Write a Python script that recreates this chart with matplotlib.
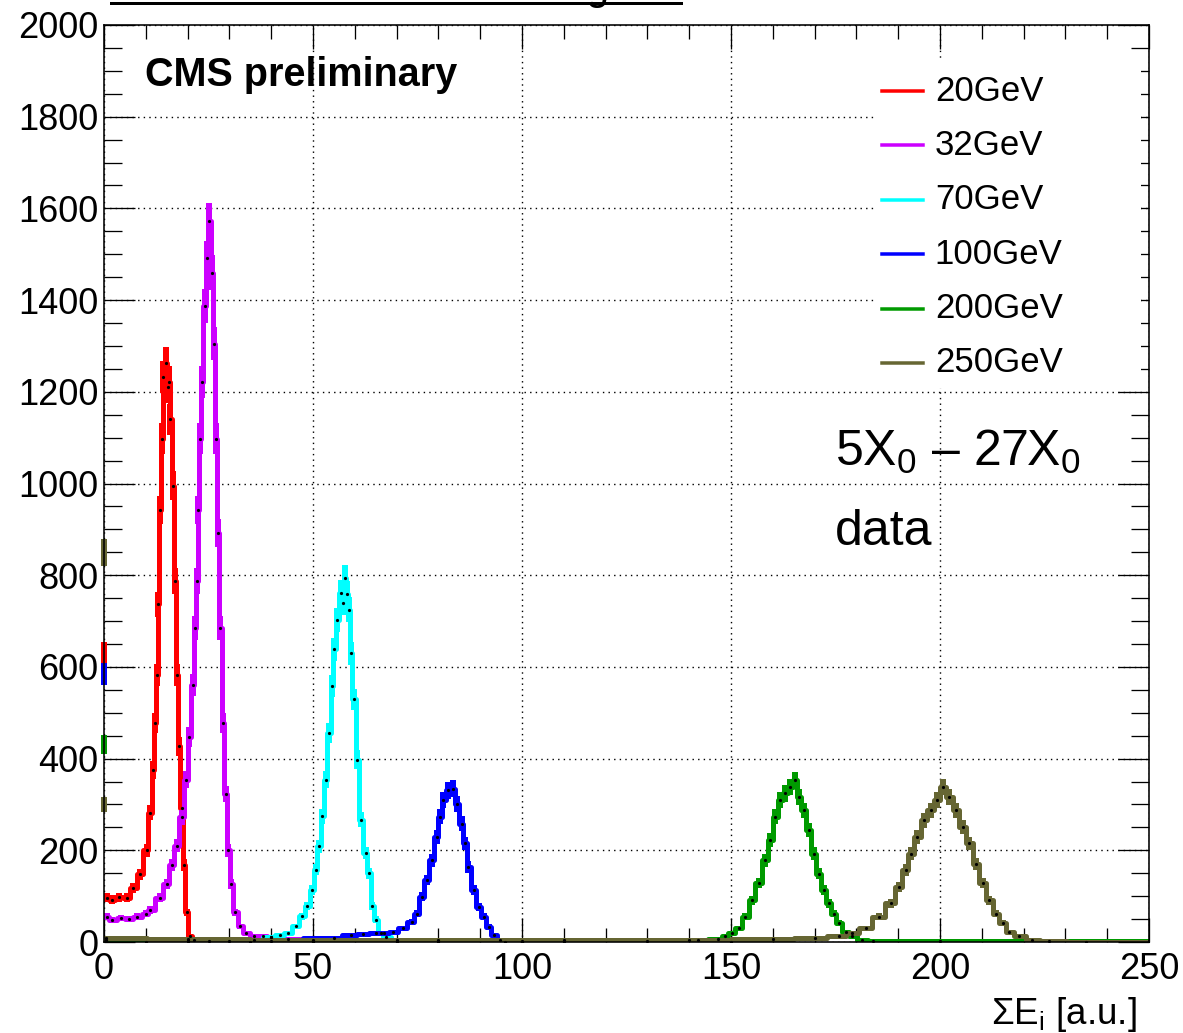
import numpy as np
import matplotlib
matplotlib.use('Agg')
import matplotlib.pyplot as plt
from matplotlib.ticker import MultipleLocator
from matplotlib.lines import Line2D
from matplotlib.patches import Rectangle

plt.rcParams['font.family'] = ['Liberation Sans', 'DejaVu Sans']
plt.rcParams['mathtext.fontset'] = 'custom'
plt.rcParams['mathtext.rm'] = 'Liberation Sans'
plt.rcParams['mathtext.it'] = 'Liberation Sans:italic'
plt.rcParams['mathtext.bf'] = 'Liberation Sans:bold'

# ---------------- data ----------------
labels = ['20GeV', '32GeV', '70GeV', '100GeV', '200GeV', '250GeV']
colors = ['#ff0000', '#cc00ff', '#00ffff', '#0000ff', '#009a00', '#666633']

x_20 = [0.6, 2, 3.5, 5.4, 7, 8.6, 10.2, 11, 11.8, 12.2, 12.6, 13, 13.4, 13.8, 14.2, 14.8,
        15.3, 15.6, 15.9, 16.6, 17, 17.5, 18, 18.6, 19.1, 19.8, 20.6, 21.5, 25, 35, 50, 70, 100]
y_20 = [96, 92, 98, 96, 117, 148, 200, 282, 375, 478, 582, 737, 943, 1098, 1232, 1263,
        1210, 1222, 1140, 995, 788, 582, 427, 292, 168, 65, 13, 4, 2, 1, 1, 0, 0]

x_32 = [0.6, 2, 4, 6, 8, 10, 11, 13.4, 15, 16.2, 17.4, 18.6, 19.6, 20.4, 21.2, 21.8, 22.2,
        22.6, 23, 23.4, 24.2, 24.7, 25.2, 25.8, 26.3, 26.9, 27.3, 27.8, 28.5, 29.1, 29.7,
        30.5, 31.4, 32.6, 34, 36, 38, 40, 44, 50, 70, 100]
y_32 = [55, 48, 52, 50, 55, 62, 70, 96, 127, 168, 210, 272, 354, 447, 561, 685, 788,
        943, 1098, 1222, 1387, 1491, 1573, 1460, 1305, 1098, 892, 685, 478, 323, 200,
        127, 65, 34, 19, 14, 12, 10, 6, 3, 1, 0]

x_70 = [0.5, 10, 20, 30, 36, 40, 42, 44, 45.9, 47.4, 48.6, 49.8, 50.6, 51.4, 52.2, 53, 53.8,
        54.6, 55, 55.8, 56.6, 57.2, 57.7, 58.1, 58.5, 59, 59.8, 60.6, 61.4, 62.6, 63.4,
        64.2, 65, 66.2, 67.5, 70, 80, 100]
y_70 = [3, 1, 2, 3, 5, 10, 15, 20, 34, 56, 78, 114, 158, 209, 274, 354, 456,
        558, 638, 703, 761, 740, 794, 760, 725, 630, 529, 398, 267, 194, 150,
        78, 49, 20, 10, 4, 1, 0]

x_100 = [0.5, 20, 40, 55, 59, 62, 65, 67, 69.2, 71.6, 73.6, 74.8, 76, 77.2, 78.4, 79.6, 80.4,
         81.2, 82.4, 83.6, 84.4, 85.6, 86.4, 87.2, 88.4, 89.6, 90.8, 92, 93.2, 94.8, 96, 110, 150]
y_100 = [5, 2, 3, 8, 15, 18, 19, 20, 22, 30, 44, 62, 99, 135, 178, 229, 273,
         309, 331, 334, 302, 258, 215, 164, 113, 77, 55, 33, 15, 4, 1, 0, 0]

x_200 = [0.5, 50, 100, 130, 142, 147, 148.6, 150.2, 151.8, 153.4, 155, 156.6, 158.2, 159.4,
         160.6, 161.8, 163, 164.2, 165.3, 166.2, 167.4, 168.6, 169.8, 171, 172.2, 173.4,
         174.6, 175.8, 177.4, 179, 181.4, 184, 200, 250]
y_200 = [3, 2, 2, 2, 4, 6, 12, 19, 30, 55, 91, 128, 178, 222,
         273, 309, 324, 338, 353, 316, 287, 244, 193, 149, 113, 84,
         62, 41, 22, 12, 4, 2, 2, 2]

x_250 = [0.5, 20, 50, 80, 110, 140, 160, 170, 175.8, 179, 182.2, 185.4, 188.2, 190.2, 191.8,
         193, 194.6, 196.2, 197.8, 199.4, 200.8, 202.2, 203.8, 205.4, 207, 208.6, 210.2,
         211.8, 213.4, 215, 216.6, 219, 222, 226, 235, 250]
y_250 = [8, 6, 5, 5, 5, 5, 6, 8, 12, 19, 30, 55, 84, 120, 157,
         193, 229, 265, 287, 309, 338, 316, 287, 251, 215, 171, 128,
         91, 62, 41, 22, 12, 4, 3, 1, 0]

# first-bin values visible on the left edge
edge_series = ['250GeV', '20GeV', '100GeV', '200GeV', '250GeV']
edge_values = [850, 630, 585, 430, 300]

series_x = [x_20, x_32, x_70, x_100, x_200, x_250]
series_y = [y_20, y_32, y_70, y_100, y_200, y_250]

# ---------------- figure ----------------
W, H = 1183, 1033
PX = 0.72  # points per pixel at dpi 100
fig = plt.figure(figsize=(W / 100, H / 100), dpi=100)
ax = fig.add_axes([104 / W, 1 - 942 / H, 1045 / W, 917 / H])
ax.set_xlim(0, 250)
ax.set_ylim(0, 2000)

for xs, ys, c in zip(series_x, series_y, colors):
    xs = np.asarray(xs, float)
    ys = np.asarray(ys, float)
    ax.step(xs, ys, where='mid', color=c, lw=5 * PX, zorder=3)
    ax.errorbar(xs, ys, yerr=np.sqrt(ys), fmt='none', ecolor=c,
                elinewidth=6 * PX, capsize=0, zorder=3)
    ax.plot(xs, ys, ls='none', marker='o', ms=1.8 * PX, color='black', zorder=4)

cmap = dict(zip(labels, colors))
for s, v in zip(edge_series, edge_values):
    ax.errorbar([0], [v], yerr=[np.sqrt(v)], fmt='none', ecolor=cmap[s],
                elinewidth=6 * PX, capsize=0, clip_on=False, zorder=5)

# axes style (ROOT-like)
ax.xaxis.set_major_locator(MultipleLocator(50))
ax.xaxis.set_minor_locator(MultipleLocator(10))
ax.yaxis.set_major_locator(MultipleLocator(200))
ax.yaxis.set_minor_locator(MultipleLocator(50))
ax.tick_params(axis='both', which='both', direction='in', top=True, right=True,
               width=1.3 * PX, color='black')
ax.tick_params(axis='x', which='major', length=24 * PX, pad=7, labelsize=26)
ax.tick_params(axis='x', which='minor', length=14 * PX)
ax.tick_params(axis='y', which='major', length=31 * PX, pad=4, labelsize=26)
ax.tick_params(axis='y', which='minor', length=18 * PX)
for sp in ax.spines.values():
    sp.set_linewidth(1.6 * PX)
    sp.set_zorder(7)
ax.grid(True, which='major', color='black', linestyle=(0, (1, 3)), linewidth=1.4 * PX)
ax.set_axisbelow(True)

# legend (drawn manually, white box without border hides the grid)
ax.add_patch(Rectangle((0.737, 1 - (388 - 25) / 917), 0.255, (388 - 60) / 917,
                       transform=ax.transAxes, facecolor='white', edgecolor='none',
                       zorder=1.5))
lx0, lx1, tx = 0.7445, 0.7837, 0.795
ly0, dly = 0.928, 0.0593
for i, (lab, c) in enumerate(zip(labels, colors)):
    yy = ly0 - i * dly
    ax.add_line(Line2D([lx0, lx1], [yy, yy], transform=ax.transAxes, color=c,
                       lw=3.5 * PX, zorder=6))
    ax.text(tx, yy, lab, transform=ax.transAxes, fontsize=25, va='center', ha='left',
            zorder=6)

ax.text(9.8, 1867, 'CMS preliminary', fontsize=28.5, fontweight='bold',
        va='baseline', ha='left')
ax.text(174.9, 1038, r'5X$_0$ – 27X$_0$', fontsize=36, va='baseline', ha='left')
ax.text(174.9, 866, 'data', fontsize=36, va='baseline', ha='left')

fig.text(1137 / W, 1 - 1024 / H, r'ΣE$_\mathrm{i}$ [a.u.]', fontsize=26.5,
         ha='right', va='baseline')

# cut-off title remnant at top
fig.add_artist(Line2D([111 / W, 681 / W], [1 - 3 / H, 1 - 3 / H], transform=fig.transFigure,
                      color='black', lw=3 * PX))
fig.text(597 / W, 1 + 1 / H, 'g', fontsize=30, ha='center', va='baseline')

fig.savefig('out.png', dpi=100)
